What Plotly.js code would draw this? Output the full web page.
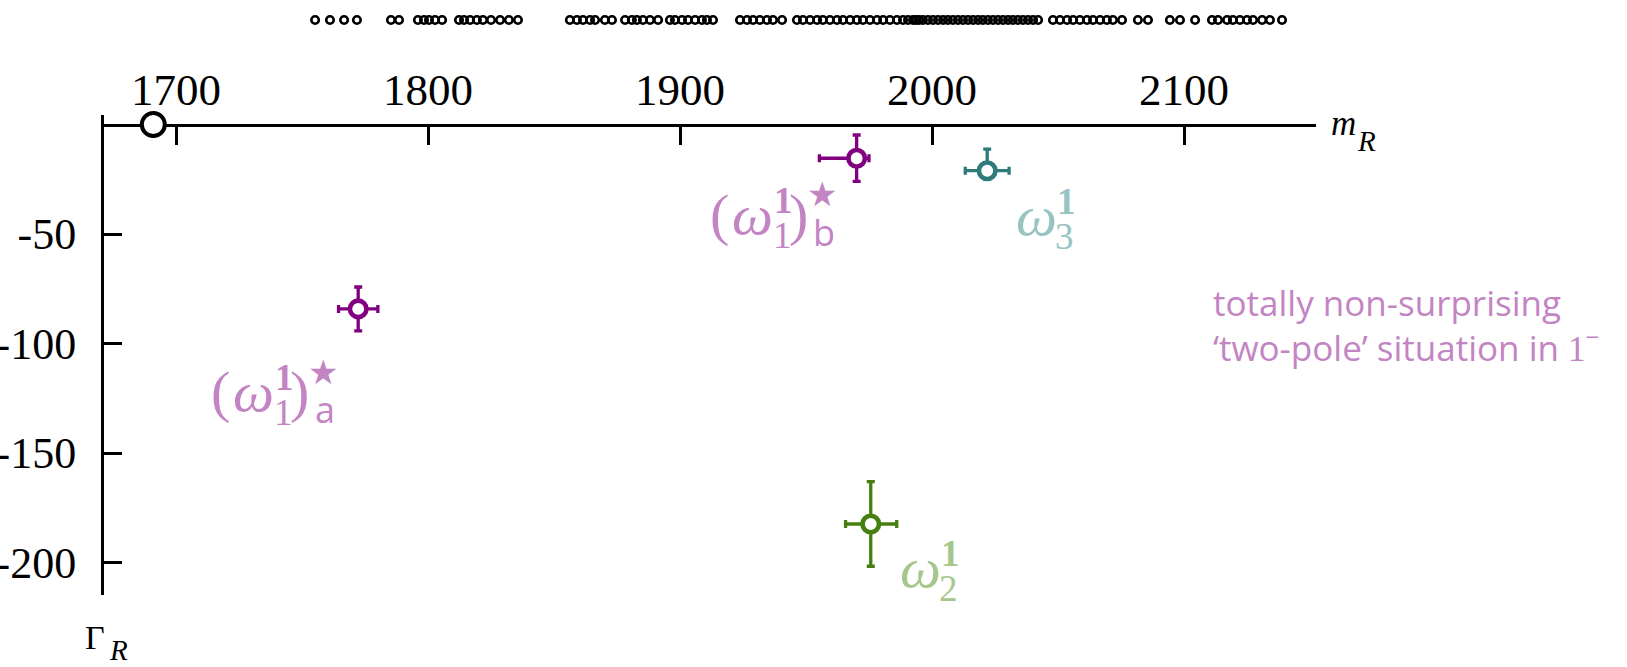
<!DOCTYPE html>
<html>
<head>
<meta charset="utf-8">
<script src="https://cdn.plot.ly/plotly-3.0.1.min.js"></script>
<style>
  html, body { margin: 0; padding: 0; background: #ffffff; }
  #chart { width: 1627px; height: 667px; }
</style>
</head>
<body>
<div id="chart"></div>
<script>
// Finite-volume energy levels shown as a strip above the pole plot (MeV)
const levelMasses = [
  1755.2, 1761.1, 1766.7, 1771.8, 1785.3, 1788.5, 1796.0, 1798.4, 1800.4, 1802.8,
  1805.6, 1812.3, 1814.3, 1816.7, 1819.4, 1821.8, 1825.0, 1828.6, 1832.1, 1835.7,
  1856.3, 1859.1, 1861.5, 1864.3, 1866.3, 1870.2, 1873.0, 1878.2, 1880.9, 1882.9,
  1885.3, 1888.1, 1891.3, 1896.0, 1898.0, 1900.8, 1903.2, 1906.0, 1908.7, 1910.7,
  1913.1, 1923.8, 1926.6, 1929.0, 1931.7, 1934.5, 1936.9, 1940.5, 1946.4, 1948.8,
  1951.6, 1954.4, 1956.7, 1959.5, 1962.3, 1964.7, 1967.5, 1970.2, 1972.6, 1975.4,
  1978.2, 1980.6, 1983.3, 1986.1, 1988.5, 1990.5, 1992.5, 1993.7, 1994.8, 1996.4,
  1998.4, 2000.4, 2002.4, 2004.4, 2006.3, 2008.3, 2010.3, 2012.3, 2014.3, 2016.3,
  2018.3, 2020.2, 2022.2, 2024.2, 2026.2, 2028.2, 2030.2, 2032.1, 2034.1, 2036.1,
  2038.1, 2040.1, 2042.1, 2048.0, 2050.8, 2053.6, 2056.0, 2058.7, 2061.5, 2063.9,
  2066.7, 2069.4, 2071.8, 2075.4, 2081.7, 2085.7, 2094.4, 2098.4, 2104.4, 2111.1,
  2113.5, 2117.1, 2119.4, 2122.2, 2125.0, 2127.4, 2131.0, 2134.1, 2138.9
];

// Threshold on the real axis
const thresholdMass = [1691];
const thresholdWidth = [0];

// Pole positions (m_R, Gamma_R) with asymmetric uncertainties
const poleIds        = ['w1a', 'w1b', 'w3', 'w2'];
const poleMass       = [1772.3, 1970.1, 2021.9, 1975.7];
const poleWidth      = [-84.2, -15.4, -21.1, -182.4];
const massErrPlus    = [7.8, 4.9, 8.7, 10.3];
const massErrMinus   = [7.8, 14.8, 8.7, 10.0];
const widthErrPlus   = [10.0, 10.6, 9.9, 19.3];
const widthErrMinus  = [10.0, 10.6, 2.0, 19.3];

// Axis ticks
const xTickVals = [1700, 1800, 1900, 2000, 2100];
const xTickText = ['1700', '1800', '1900', '2000', '2100'];
const yTickVals = [-50, -100, -150, -200];
const yTickText = ['-50', '-100', '-150', '-200'];

// Label parts for each pole
const labelSup    = ['1', '1', '1', '1'];
const labelSub    = ['1', '1', '3', '2'];
const labelSheet  = ['a', 'b', null, null];
const noteLines   = ['totally non-surprising', '\u2018two-pole\u2019 situation in '];

// ---- styling ----
const SERIF = 'Liberation Serif, Times New Roman, serif';
const SANS  = 'Open Sans, Noto Sans, sans-serif';
const markColor  = { w1a: '#800080', w1b: '#800080', w3: '#2f7a7a', w2: '#457f10' };
const labelColor = { w1a: '#c384c3', w1b: '#c384c3', w3: '#98c3c3', w2: '#a6c78c' };
const noteColor = '#c384c3';

const traces = [];

// strip of levels (own small subplot above the axes)
traces.push({
  type: 'scatter', mode: 'markers',
  x: levelMasses, y: levelMasses.map(() => 0),
  xaxis: 'x2', yaxis: 'y2',
  marker: { symbol: 'circle-open', size: 7.5, color: '#000', line: { width: 2.6, color: '#000' } },
  hoverinfo: 'x', cliponaxis: false
});

// threshold marker on the real axis
traces.push({
  type: 'scatter', mode: 'markers',
  x: thresholdMass, y: thresholdWidth,
  marker: { symbol: 'circle', size: 23, color: '#ffffff', line: { width: 4, color: '#000' } },
  cliponaxis: false, hoverinfo: 'x'
});

// poles with error bars
poleIds.forEach((id, i) => {
  const c = markColor[id];
  traces.push({
    type: 'scatter', mode: 'markers',
    x: [poleMass[i]], y: [poleWidth[i]],
    error_x: { type: 'data', symmetric: false, array: [massErrPlus[i]], arrayminus: [massErrMinus[i]],
               color: c, thickness: 3.3, width: 4 },
    error_y: { type: 'data', symmetric: false, array: [widthErrPlus[i]], arrayminus: [widthErrMinus[i]],
               color: c, thickness: 3.3, width: 4 },
    marker: { symbol: 'circle', size: 16.5, color: '#ffffff', line: { width: 4.6, color: c } },
    cliponaxis: false, hoverinfo: 'x+y'
  });
});

// ---- labels built from pieces placed around each pole ----
// offsets (px) of the label origin relative to the pole: origin = left edge / centre of omega
const labelOrigin = {
  w1a: [-126, 89],
  w1b: [-126, 62],
  w3:  [28, 51],
  w2:  [28, 50]
};

function piece(i, text, ox, oy, size, family, xanchor) {
  const id = poleIds[i];
  const o = labelOrigin[id];
  return {
    xref: 'x', yref: 'y', x: poleMass[i], y: poleWidth[i],
    xshift: o[0] + ox, yshift: -(o[1] + oy),
    text: text, showarrow: false, xanchor: xanchor, yanchor: 'middle',
    borderpad: 0, font: { family: family, size: size, color: labelColor[id] }
  };
}

const annotations = [];
poleIds.forEach((id, i) => {
  const starred = labelSheet[i] !== null;
  if (starred) {
    annotations.push(piece(i, '(', -1, -6, 58, SERIF, 'right'));
  }
  annotations.push(piece(i, '<i>\u03c9</i>', 0, -6, 58, SERIF, 'left'));
  annotations.push(piece(i, '<b>' + labelSup[i] + '</b>', starred ? 42 : 41, -20, 37, SERIF, 'left'));
  annotations.push(piece(i, labelSub[i], starred ? 41 : 39, 15, 37, SERIF, 'left'));
  if (starred) {
    annotations.push(piece(i, ')', 57, -6, 58, SERIF, 'left'));
    annotations.push(piece(i, '\u2605', 91, -26, 34, 'DejaVu Sans', 'center'));
    annotations.push(piece(i, labelSheet[i], 93, 12, 36, SANS, 'center'));
  }
});

// side note, one annotation per line
const noteTexts = [
  noteLines[0],
  noteLines[1] + '<span style="font-family:Liberation Serif">1</span><sup>\u2212</sup>'
];
const noteCentres = [302, 345];
noteTexts.forEach((t, k) => {
  annotations.push({
    xref: 'paper', yref: 'paper', x: (1212 - 104) / 1212, y: 1 - noteCentres[k] / 667,
    xanchor: 'left', yanchor: 'middle', align: 'left', showarrow: false, borderpad: 0,
    text: t, font: { family: SANS, size: 35, color: noteColor }
  });
});

// axis names
annotations.push({ xref: 'paper', yref: 'paper', x: (1330 - 104) / 1212, y: 1 - 123.5 / 667,
  xanchor: 'left', yanchor: 'middle', showarrow: false, borderpad: 0,
  text: '<i>m</i>', font: { family: SERIF, size: 35, color: '#000' } });
annotations.push({ xref: 'paper', yref: 'paper', x: (1356 - 104) / 1212, y: 1 - 141 / 667,
  xanchor: 'left', yanchor: 'middle', showarrow: false, borderpad: 0,
  text: '<i>R</i>', font: { family: SERIF, size: 29, color: '#000' } });
annotations.push({ xref: 'paper', yref: 'paper', x: (84 - 104) / 1212, y: 1 - 637 / 667,
  xanchor: 'left', yanchor: 'middle', showarrow: false, borderpad: 0,
  text: '\u0393', font: { family: SERIF, size: 34, color: '#000' } });
annotations.push({ xref: 'paper', yref: 'paper', x: (108 - 104) / 1212, y: 1 - 650 / 667,
  xanchor: 'left', yanchor: 'middle', showarrow: false, borderpad: 0,
  text: '<i>R</i>', font: { family: SERIF, size: 29, color: '#000' } });

const xRange = [1671.43, 2152.38];

const layout = {
  width: 1627, height: 667,
  margin: { l: 104, r: 311, t: 0, b: 0, pad: 0 },
  paper_bgcolor: '#ffffff', plot_bgcolor: 'rgba(0,0,0,0)',
  showlegend: false,
  xaxis: {
    domain: [0, 1], range: xRange, anchor: 'free', position: 1 - 124.5 / 667, side: 'top',
    showline: true, linecolor: '#000', linewidth: 3,
    ticks: 'inside', ticklen: 18, tickwidth: 3, tickcolor: '#000',
    tickmode: 'array', tickvals: xTickVals, ticktext: xTickText,
    tickfont: { family: SERIF, size: 45, color: '#000' }, ticklabelstandoff: 1,
    showgrid: false, zeroline: false, layer: 'below traces', fixedrange: true
  },
  yaxis: {
    domain: [1 - 594.5 / 667, 1 - 115 / 667], range: [-214.6, 4.34], anchor: 'x', side: 'left',
    showline: true, linecolor: '#000', linewidth: 3,
    ticks: 'inside', ticklen: 18, tickwidth: 3, tickcolor: '#000',
    tickmode: 'array', tickvals: yTickVals, ticktext: yTickText,
    tickfont: { family: SERIF, size: 44, color: '#000' }, ticklabelstandoff: 16,
    showgrid: false, zeroline: false, layer: 'below traces', fixedrange: true
  },
  xaxis2: { domain: [0, 1], range: xRange, anchor: 'y2', visible: false, fixedrange: true },
  yaxis2: { domain: [1 - 40 / 667, 1], range: [-1, 1], anchor: 'x2', visible: false, fixedrange: true },
  annotations: annotations
};

Plotly.newPlot('chart', traces, layout, { displayModeBar: false, staticPlot: true });
</script>
</body>
</html>
